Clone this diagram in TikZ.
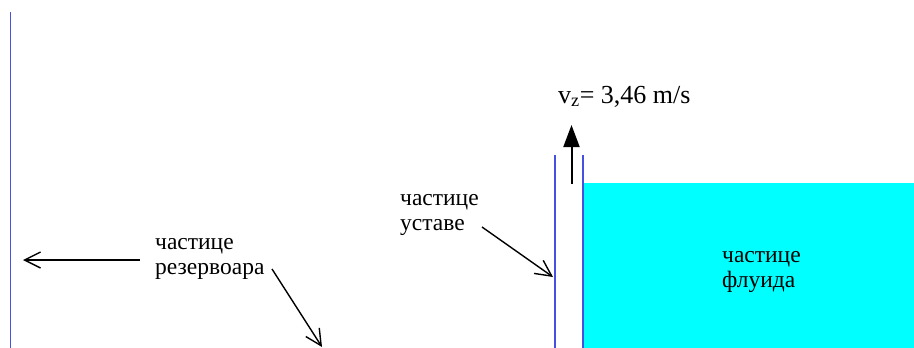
\documentclass[tikz,border=0pt]{standalone}
\usepackage{fontspec}
\setmainfont{Liberation Serif}
\newfontfamily\timesfont{Liberation Serif}
\usetikzlibrary{arrows.meta,calc}
\definecolor{wallblue}{RGB}{70,80,225}
\definecolor{fluid}{RGB}{0,255,255}
\begin{document}
\begin{tikzpicture}[x=1pt,y=-1pt,
  wall/.style={draw=wallblue,line width=1.2pt},
  lbl/.style={anchor=base west,align=left,inner sep=0pt,font=\timesfont\fontsize{23.5}{25.5}\selectfont},
  pointer/.style={draw=black,line width=1.4pt,-{Straight Barb[length=16pt,width=16pt,line width=1.4pt]}},
  flowarrow/.style={draw=black,line width=2pt,-{Triangle[length=22pt,width=16pt]}}]
\useasboundingbox (0,0) rectangle (914,348);
% fluid
\fill[fluid] (583,183) rectangle (914,348);
% walls
\draw[wall] (10.5,12) -- (10.5,348);
\draw[wall] (555,155) -- (555,348);
\draw[wall] (583,155) -- (583,348);
% labels (anchor at baseline of the second line)
\node[lbl] (res) at (155,274.5) {частице\\резервоара};
\node[lbl] (gate) at (400,230.5) {частице\\уставе};
\node[lbl] (fl) at (722,287.5) {частице\\флуида};
\node[anchor=base west,inner sep=0pt,font=\timesfont\fontsize{26}{30}\selectfont] (vz) at (558,103) {v\textsubscript{z}= 3,46 m/s};
% coordinates
\coordinate (resA) at (140,260);
\coordinate (wallL) at (23,260);
\coordinate (resB) at (272,269);
\coordinate (bottomP) at (322,347);
\coordinate (gateA) at (482,227);
\coordinate (wallG) at (553,277);
\coordinate (jetA) at (571.5,184);
\coordinate (jetB) at (571.5,125);
% arrows
\draw[pointer] (resA) -- (wallL);
\draw[pointer] (resB) -- (bottomP);
\draw[pointer] (gateA) -- (wallG);
\draw[flowarrow] (jetA) -- (jetB);
\end{tikzpicture}
\end{document}
